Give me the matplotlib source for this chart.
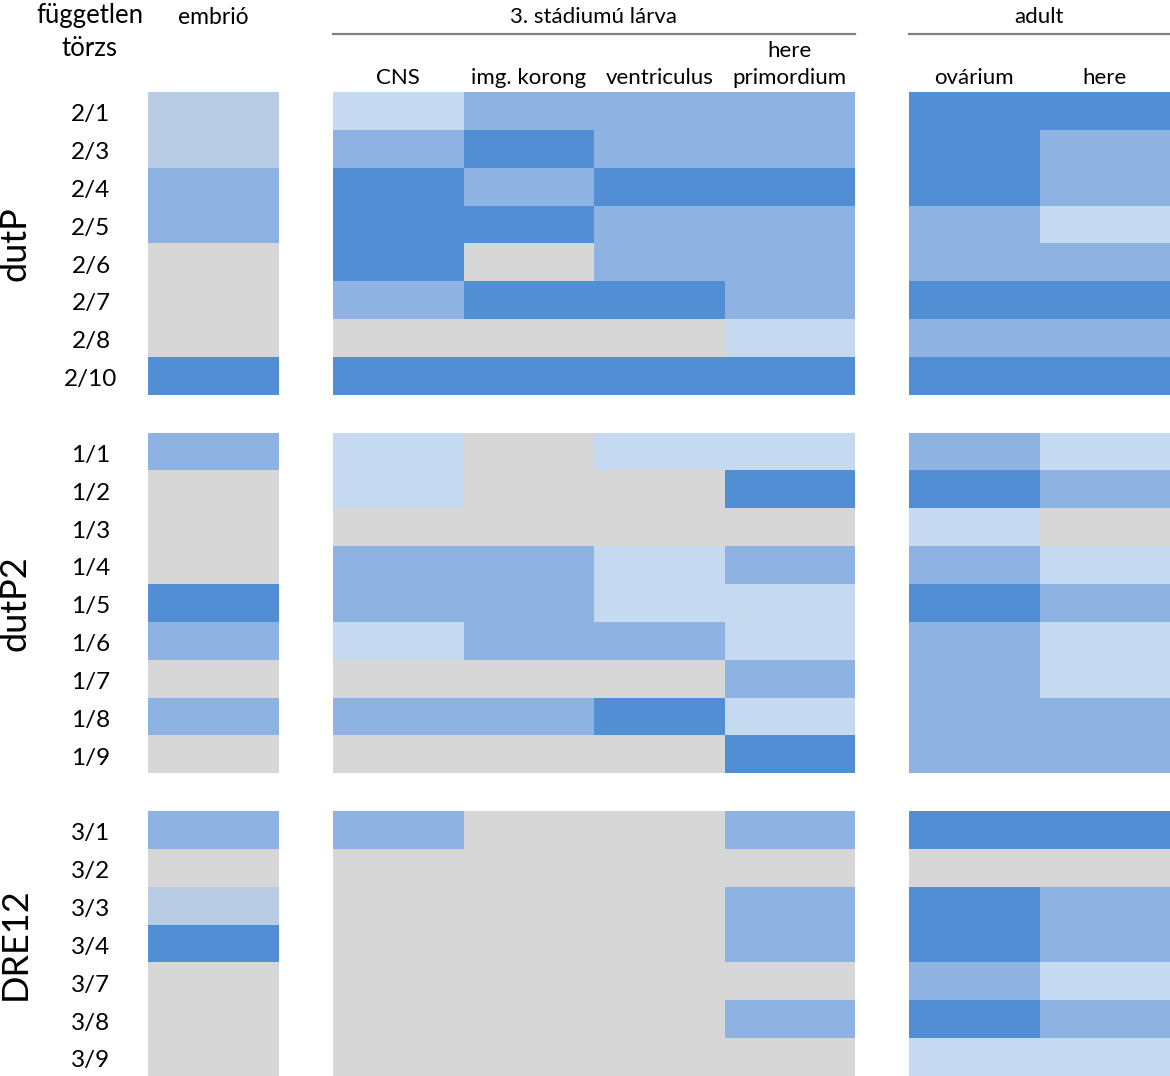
import matplotlib
matplotlib.use("Agg")
import matplotlib.pyplot as plt
import numpy as np
from matplotlib.colors import ListedColormap, BoundaryNorm
from matplotlib.transforms import blended_transform_factory

plt.rcParams['font.family'] = ['Lato', 'DejaVu Sans']

# expression levels: 0 = none (gray), 1 = weak, 2 = medium, 3 = strong, 4 = embryo weak (grayish blue)
groups = ['dutP', 'dutP2', 'DRE12']
strains = [
    ['2/1', '2/3', '2/4', '2/5', '2/6', '2/7', '2/8', '2/10'],
    ['1/1', '1/2', '1/3', '1/4', '1/5', '1/6', '1/7', '1/8', '1/9'],
    ['3/1', '3/2', '3/3', '3/4', '3/7', '3/8', '3/9'],
]
larva_cols = ['CNS', 'img. korong', 'ventriculus', 'here\nprimordium']
adult_cols = ['ovárium', 'here']

embrio = [
    [4, 4, 2, 2, 0, 0, 0, 3],
    [2, 0, 0, 0, 3, 2, 0, 2, 0],
    [2, 0, 4, 3, 0, 0, 0],
]
larva = [
    [[1, 2, 2, 2], [2, 3, 2, 2], [3, 2, 3, 3], [3, 3, 2, 2],
     [3, 0, 2, 2], [2, 3, 3, 2], [0, 0, 0, 1], [3, 3, 3, 3]],
    [[1, 0, 1, 1], [1, 0, 0, 3], [0, 0, 0, 0], [2, 2, 1, 2], [2, 2, 1, 1],
     [1, 2, 2, 1], [0, 0, 0, 2], [2, 2, 3, 1], [0, 0, 0, 3]],
    [[2, 0, 0, 2], [0, 0, 0, 0], [0, 0, 0, 2], [0, 0, 0, 2],
     [0, 0, 0, 0], [0, 0, 0, 2], [0, 0, 0, 0]],
]
adult = [
    [[3, 3], [3, 2], [3, 2], [2, 1], [2, 2], [3, 3], [2, 2], [3, 3]],
    [[2, 1], [3, 2], [1, 0], [2, 1], [3, 2], [2, 1], [2, 1], [2, 2], [2, 2]],
    [[3, 3], [0, 0], [3, 2], [3, 2], [2, 1], [3, 2], [1, 1]],
]

colors = ['#D7D7D7', '#C5D9F0', '#8EB3E2', '#518ED4', '#B8CCE4']
cmap = ListedColormap(colors)
cmap.set_bad('white')
norm = BoundaryNorm(np.arange(-0.5, 5.5, 1), cmap.N)


def stack(blocks, ncol):
    parts = []
    for i, b in enumerate(blocks):
        parts.append(np.array(b, dtype=float).reshape(-1, ncol))
        if i < len(blocks) - 1:
            parts.append(np.full((1, ncol), np.nan))
    return np.vstack(parts)


W, H = 1170, 1076
fig = plt.figure(figsize=(W / 100, H / 100), dpi=100)

top_px, bottom_px = 92, 1076


def add_panel(x0, x1, data):
    ax = fig.add_axes([x0 / W, 1 - bottom_px / H, (x1 - x0) / W, (bottom_px - top_px) / H])
    ax.pcolormesh(data, cmap=cmap, norm=norm)
    ax.set_ylim(data.shape[0], 0)
    ax.set_xlim(0, data.shape[1])
    ax.axis('off')
    return ax


emb_data = stack([np.array(e)[:, None] for e in embrio], 1)
lar_data = stack(larva, 4)
adu_data = stack(adult, 2)

ax_e = add_panel(148, 279, emb_data)
ax_l = add_panel(333, 855, lar_data)
ax_a = add_panel(909, 1170, adu_data)

# strain and group labels
tr = blended_transform_factory(fig.transFigure, ax_e.transData)
row = 0
for g, names in zip(groups, strains):
    for n in names:
        fig.text(91 / W, row + 0.6, n, transform=tr, ha='center', va='center', fontsize=17.5)
        row += 1
    fig.text(15 / W, row - len(names) / 2, g, transform=tr, ha='center', va='center',
             rotation=90, fontsize=26)
    row += 1

# headers
hs = 16
fig.text(90 / W, 1 - 16 / H, 'független', ha='center', va='center', fontsize=18.5)
fig.text(90 / W, 1 - 49 / H, 'törzs', ha='center', va='center', fontsize=18.5)
fig.text(213 / W, 1 - 17 / H, 'embrió', ha='center', va='center', fontsize=16.5)
fig.text(594 / W, 1 - 17 / H, '3. stádiumú lárva', ha='center', va='center', fontsize=16)
fig.text(1039 / W, 1 - 17 / H, 'adult', ha='center', va='center', fontsize=16)
fig.add_artist(plt.Line2D([333 / W, 855 / W], [1 - 34 / H, 1 - 34 / H], color='#808080', lw=1.6))
fig.add_artist(plt.Line2D([909 / W, 1170 / W], [1 - 34 / H, 1 - 34 / H], color='#808080', lw=1.6))

for ax, cols in [(ax_l, larva_cols), (ax_a, adult_cols)]:
    trx = blended_transform_factory(ax.transData, fig.transFigure)
    for i, c in enumerate(cols):
        ax.text(i + 0.5, 1 - 88 / H, c, transform=trx, ha='center', va='bottom',
                fontsize=hs, linespacing=1.45)

fig.savefig('out.png', dpi=100)
